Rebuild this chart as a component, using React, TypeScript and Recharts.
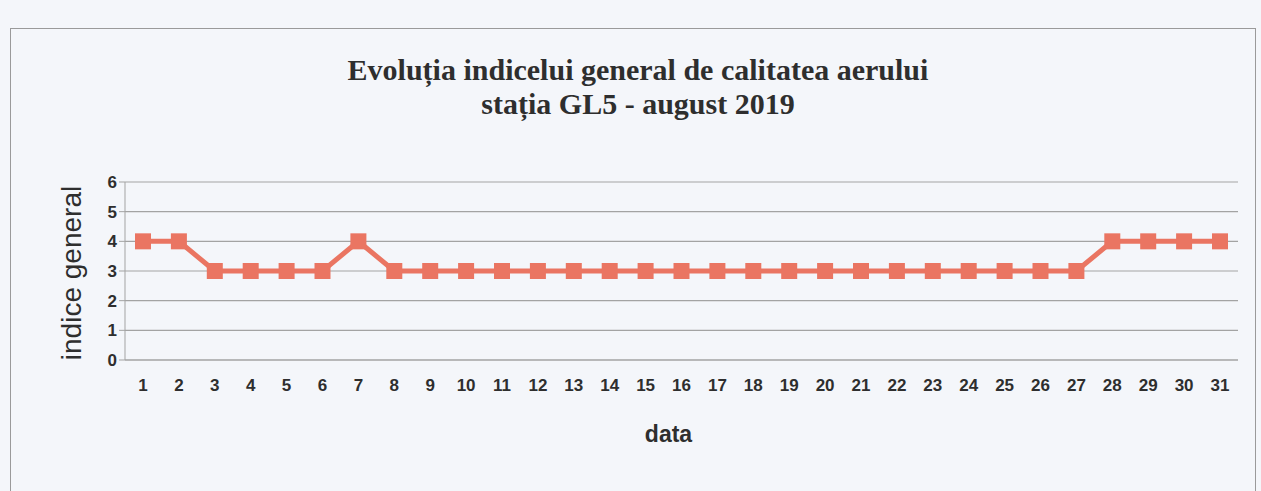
import { LineChart, Line, XAxis, YAxis, CartesianGrid, Label } from 'recharts'

const days = Array.from({ length: 31 }, (_, i) => String(i + 1))
const indice = [4, 4, 3, 3, 3, 3, 4, 3, 3, 3, 3, 3, 3, 3, 3, 3, 3, 3, 3, 3, 3, 3, 3, 3, 3, 3, 3, 4, 4, 4, 4]
const yTicks = [0, 1, 2, 3, 4, 5, 6]

const data = days.map((d, i) => ({ day: d, indice: indice[i] }))

const INK = '#2e2e2e'
const SERIES = '#ea7562'
const SANS = 'Arial, "Liberation Sans", sans-serif'

function SquareDot(props: any) {
  const { cx, cy } = props
  if (cx == null || cy == null) return null
  return <rect x={cx - 8} y={cy - 8} width={16} height={16} fill={SERIES} />
}

export default function App() {
  return (
    <div style={{ position: 'absolute', left: 0, top: 0, width: 1261, height: 491, background: '#f4f6fa', overflow: 'hidden' }}>
      <div style={{ position: 'absolute', left: 10, top: 28, width: 1244, height: 480, border: '1px solid #9a9a9a' }} />
      <div style={{ position: 'absolute', left: 0, top: 53, width: 1276, textAlign: 'center', fontFamily: '"Liberation Serif", "Times New Roman", serif', fontWeight: 'bold', fontSize: 30, lineHeight: '34px', color: INK }}>
        Evoluția indicelui general de calitatea aerului
        <br />
        stația GL5 - august 2019
      </div>
      <div style={{ position: 'absolute', left: 8, top: 8 }}>
        <LineChart width={1245} height={475} data={data} margin={{ top: 174, right: 15, bottom: 43, left: 47 }}>
          <CartesianGrid vertical={false} stroke="#a3a3a3" strokeWidth={1.2} />
          <XAxis
            dataKey="day"
            height={80}
            padding={{ left: 18, right: 18 }}
            tickLine={false}
            axisLine={{ stroke: '#a3a3a3' }}
            tickMargin={13}
            tick={{ fill: INK, fontSize: 17, fontWeight: 'bold', fontFamily: SANS }}
            interval={0}
          >
            <Label
              content={({ viewBox }: any) => (
                <text x={viewBox.x + viewBox.width / 2 - 13} y={viewBox.y + 82} textAnchor="middle" fill={INK} fontSize={23} fontWeight="bold" fontFamily={SANS}>
                  data
                </text>
              )}
            />
          </XAxis>
          <YAxis
            width={70}
            domain={[0, 6]}
            ticks={yTicks}
            tickLine={{ stroke: '#a3a3a3' }}
            tickSize={6}
            axisLine={{ stroke: '#a3a3a3' }}
            tick={{ fill: INK, fontSize: 17, fontWeight: 'bold', fontFamily: SANS }}
          >
            <Label
              content={({ viewBox }: any) => {
                const x = viewBox.x + 16
                const y = viewBox.y + viewBox.height / 2 + 2
                return (
                  <text x={x} y={y} transform={`rotate(-90 ${x} ${y})`} textAnchor="middle" dominantBaseline="central" fill={INK} fontSize={28} fontFamily={SANS}>
                    indice general
                  </text>
                )
              }}
            />
          </YAxis>
          <YAxis yAxisId="right" orientation="right" width={0} tick={false} tickLine={false} axisLine={{ stroke: '#a3a3a3' }} />
          <Line
            dataKey="indice"
            stroke={SERIES}
            strokeWidth={5}
            dot={<SquareDot />}
            activeDot={false}
            isAnimationActive={false}
          />
        </LineChart>
      </div>
    </div>
  )
}
